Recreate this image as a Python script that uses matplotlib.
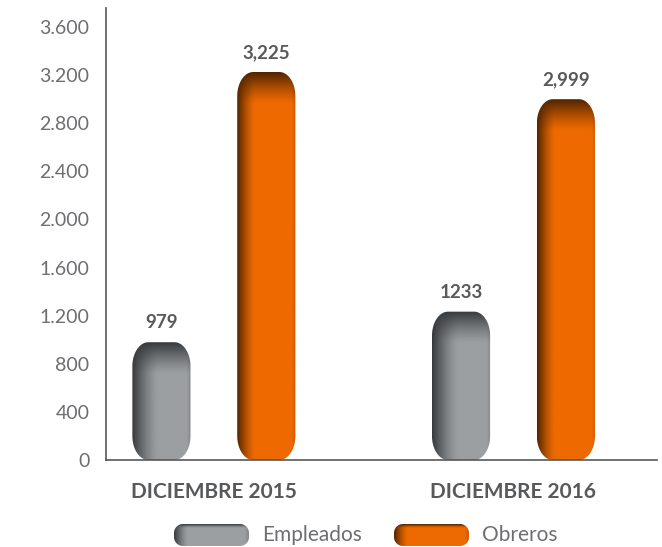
import numpy as np
import matplotlib
matplotlib.use("Agg")
import matplotlib.pyplot as plt
from matplotlib.patches import PathPatch
from matplotlib.path import Path
from matplotlib.colors import to_rgb

# ---------------- data ----------------
categories = ["DICIEMBRE 2015", "DICIEMBRE 2016"]
series_names = ["Empleados", "Obreros"]
empleados = [979, 1233]
obreros = [3225, 2999]
empleados_labels = ["979", "1233"]
obreros_labels = ["3,225", "2,999"]
yticks = [0, 400, 800, 1200, 1600, 2000, 2400, 2800, 3200, 3600]
ytick_labels = ["0", "400", "800", "1.200", "1.600", "2.000", "2.400",
                "2.800", "3.200", "3.600"]

# ---------------- style ----------------
plt.rcParams['font.family'] = ['Lato', 'DejaVu Sans']
GRAY_BASE, GRAY_DARK = "#9c9fa1", "#35383a"
ORANGE_BASE, ORANGE_DARK = "#ee6a00", "#4e2300"
TEXT = "#6d6e71"
TEXT_BOLD = "#58595b"

W, H = 662, 547
fig = plt.figure(figsize=(W / 100, H / 100), dpi=100)
ax_l, ax_b, ax_w, ax_h = 106, 87, 551, 452
ax = fig.add_axes([ax_l / W, ax_b / H, ax_w / W, ax_h / H])
xlim = (-0.36, 1.479)
ylim = (0, 3757)
ax.set_xlim(xlim)
ax.set_ylim(ylim)
px_x = (xlim[1] - xlim[0]) / ax_w
px_y = (ylim[1] - ylim[0]) / ax_h

bar_w = 0.194
offset = 0.175
rx_px, ry_px = 16, 24


def rounded_path(x0, y0, w, h, rx, ry, n=24):
    rx = min(rx, w / 2)
    ry = min(ry, h / 2)
    t = np.linspace(0, np.pi / 2, n)
    pts = []
    cx, cy = x0 + w - rx, y0 + ry
    pts += list(zip(cx + rx * np.sin(t), cy - ry * np.cos(t)))
    cx, cy = x0 + w - rx, y0 + h - ry
    pts += list(zip(cx + rx * np.cos(t), cy + ry * np.sin(t)))
    cx, cy = x0 + rx, y0 + h - ry
    pts += list(zip(cx - rx * np.sin(t), cy + ry * np.cos(t)))
    cx, cy = x0 + rx, y0 + ry
    pts += list(zip(cx - rx * np.cos(t), cy - ry * np.sin(t)))
    pts.append(pts[0])
    return Path(np.array(pts), closed=True)


def shade_image(base, dark, wpx, hpx, left_len, top_len):
    b = np.array(to_rgb(base))
    d = np.array(to_rgb(dark))
    u = np.arange(wpx)[None, :] + 0.5
    v = np.arange(hpx)[:, None] + 0.5
    lf = np.clip(1 - u / left_len, 0, 1) ** 1.4
    tf = np.clip(1 - v / top_len, 0, 1) ** 1.3
    rf = np.clip(1 - (wpx - u) / 4.0, 0, 1) * 0.25
    lf = lf * np.ones_like(v)
    tf = tf * np.ones_like(u)
    t = 1 - (1 - lf) * (1 - tf) * (1 - rf)
    img = b[None, None, :] * (1 - t[..., None]) + d[None, None, :] * t[..., None]
    return img


def pill(axis, x0, y0, w, h, rx, ry, base, dark, wpx, hpx,
         left_len, top_len, flip=False):
    patch = PathPatch(rounded_path(x0, y0, w, h, rx, ry), fc="none",
                      ec="none", zorder=2)
    axis.add_patch(patch)
    img = shade_image(base, dark, max(int(wpx), 2), max(int(hpx), 2),
                      left_len, top_len)
    if flip:
        ext = [x0, x0 + w, y0 + h, y0]
    else:
        ext = [x0, x0 + w, y0, y0 + h]
    im = axis.imshow(img, extent=ext, origin="upper",
                     aspect="auto", interpolation="bilinear", zorder=2)
    im.set_clip_path(patch)


x = np.arange(len(categories))
for i in x:
    for vals, labels, base, dark, sign, llen in (
            (empleados, empleados_labels, GRAY_BASE, GRAY_DARK, -1, 26),
            (obreros, obreros_labels, ORANGE_BASE, ORANGE_DARK, 1, 18)):
        xc = i + sign * offset
        h = vals[i]
        pill(ax, xc - bar_w / 2, 0, bar_w, h, rx_px * px_x, ry_px * px_y,
             base, dark, bar_w / px_x, h / px_y, llen, 32)
        ax.annotate(labels[i], (xc, h), xytext=(0, 8),
                    textcoords="offset points", ha="center", va="bottom",
                    fontsize=13.5, fontweight="bold", color=TEXT_BOLD)

ax.set_xlim(xlim)
ax.set_ylim(ylim)
ax.set_yticks(yticks)
ax.set_yticklabels(ytick_labels)
ax.set_xticks(x)
ax.set_xticklabels(categories, fontweight="bold", fontsize=15, color=TEXT_BOLD)
ax.tick_params(axis="y", length=0, pad=12, labelsize=14, labelcolor=TEXT)
ax.tick_params(axis="x", length=0, pad=16)
for s in ("top", "right"):
    ax.spines[s].set_visible(False)
for s in ("left", "bottom"):
    ax.spines[s].set_color("#555759")
    ax.spines[s].set_linewidth(1.2)

# ---------------- legend ----------------
lax = fig.add_axes([0, 0, 1, 1], zorder=3)
lax.set_xlim(0, W)
lax.set_ylim(H, 0)
lax.axis("off")
leg_items = [(series_names[0], GRAY_BASE, GRAY_DARK, 174),
             (series_names[1], ORANGE_BASE, ORANGE_DARK, 394)]
for name, base, dark, lx in leg_items:
    pill(lax, lx, 524, 75, 22, 9, 9, base, dark, 75, 22, 14, 4, flip=True)
    lax.text(lx + 88, 535, name, ha="left", va="center", fontsize=15,
             color=TEXT)
lax.set_xlim(0, W)
lax.set_ylim(H, 0)

fig.savefig("out.png", dpi=100)
